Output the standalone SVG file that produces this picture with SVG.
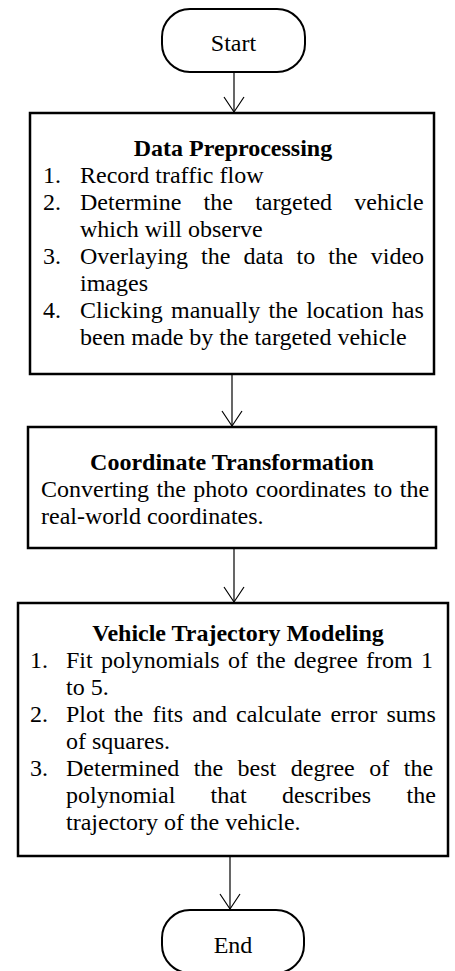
<svg xmlns="http://www.w3.org/2000/svg" width="455" height="971" viewBox="0 0 455 971">
  <defs>
    <style>
      .term { fill: #fff; stroke: #000; stroke-width: 2; }
      .box { fill: #fff; stroke: #000; stroke-width: 2.5; }
      .conn { stroke: #000; stroke-width: 1.2; fill: none; }
      text { font-family: "Liberation Serif", "Times New Roman", serif; font-size: 24px; fill: #000; }
      .title { font-weight: bold; text-anchor: middle; }
      .mid { text-anchor: middle; }
    </style>
    <!-- open V arrowhead, tip at the end of the line -->
    <marker id="vhead" markerWidth="18" markerHeight="22" refX="16" refY="11" orient="auto" markerUnits="userSpaceOnUse" viewBox="0 0 18 22">
      <path d="M1,1 L16,11 L1,21" fill="none" stroke="#000" stroke-width="1.2"/>
    </marker>
  </defs>
  <rect width="455" height="971" fill="#fff"/>

  <g id="connectors">
    <path class="conn" d="M234,72 V112" marker-end="url(#vhead)"/>
    <path class="conn" d="M232,374 V426" marker-end="url(#vhead)"/>
    <path class="conn" d="M234,548 V602" marker-end="url(#vhead)"/>
    <path class="conn" d="M230,856 V909" marker-end="url(#vhead)"/>
  </g>

  <g id="start">
    <rect class="term" x="162" y="9" width="143" height="63" rx="28" ry="28"/>
    <text class="mid" x="233.5" y="51">Start</text>
  </g>

  <g id="data-preprocessing">
    <rect class="box" x="30" y="113" width="404" height="261"/>
    <text class="title" x="233" y="156">Data Preprocessing</text>
    <text x="43" y="183">1.</text>
    <text x="80" y="183">Record traffic flow</text>
    <text x="43" y="210">2.</text>
    <text x="80" y="210" word-spacing="16.3">Determine the targeted vehicle</text>
    <text x="80" y="237">which will observe</text>
    <text x="43" y="264">3.</text>
    <text x="80" y="264" word-spacing="7.1">Overlaying the data to the video</text>
    <text x="80" y="291">images</text>
    <text x="43" y="318">4.</text>
    <text x="80" y="318" word-spacing="2.3">Clicking manually the location has</text>
    <text x="80" y="345">been made by the targeted vehicle</text>
  </g>

  <g id="coordinate-transformation">
    <rect class="box" x="28" y="427" width="408" height="121"/>
    <text class="title" x="232" y="470">Coordinate Transformation</text>
    <text x="41" y="497" word-spacing="1.5">Converting the photo coordinates to the</text>
    <text x="41" y="524">real-world coordinates.</text>
  </g>

  <g id="trajectory-modeling">
    <rect class="box" x="18" y="603" width="430" height="253"/>
    <text class="title" x="238" y="641">Vehicle Trajectory Modeling</text>
    <text x="30" y="668">1.</text>
    <text x="66" y="668" word-spacing="2.3">Fit polynomials of the degree from 1</text>
    <text x="66" y="695">to 5.</text>
    <text x="30" y="722">2.</text>
    <text x="66" y="722" word-spacing="3.2">Plot the fits and calculate error sums</text>
    <text x="66" y="749">of squares.</text>
    <text x="30" y="776">3.</text>
    <text x="66" y="776" word-spacing="8.5">Determined the best degree of the</text>
    <text x="66" y="803" word-spacing="29.3">polynomial that describes the</text>
    <text x="66" y="830">trajectory of the vehicle.</text>
  </g>

  <g id="end">
    <rect class="term" x="162" y="910" width="142" height="63" rx="28" ry="28"/>
    <text class="mid" x="233" y="953">End</text>
  </g>
</svg>
